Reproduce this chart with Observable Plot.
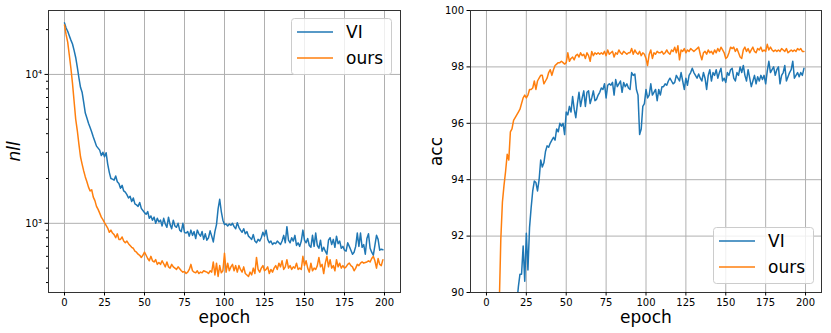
<!DOCTYPE html>
<html>
<head>
<meta charset="utf-8">
<script src="https://cdn.jsdelivr.net/npm/d3@7"></script>
<script src="https://cdn.jsdelivr.net/npm/@observablehq/plot@0.6"></script>
<style>
  html, body { margin: 0; padding: 0; background: #fff; }
  #wrap { position: relative; width: 831px; height: 333px; font-family: "DejaVu Sans", sans-serif; }
  .panel { position: absolute; top: 0; }
  .legend { position: absolute; }
</style>
</head>
<body>
<div id="wrap">
  <div id="left" class="panel" style="left:0px"></div>
  <div id="right" class="panel" style="left:415px"></div>
</div>
<script>
const seriesNames = ["VI", "ours"];
const seriesColors = ["#1f77b4", "#ff7f0e"];
const xTicks = [0, 25, 50, 75, 100, 125, 150, 175, 200];
const nllMajorTicks = [1000, 10000];
const nllMajorLabels = ["10\u00B3", "10\u2074"];
const nllMinorTicks = [400, 500, 600, 700, 800, 900, 2000, 3000, 4000, 5000, 6000, 7000, 8000, 9000, 20000];
const accTicks = [90, 92, 94, 96, 98, 100];

const nllVI = [
22200,20500,19500,18200,17000,16000,14500,13000,11200,9500,
8200,7600,6500,5500,5100,4700,4400,4100,3800,3550,
3300,3200,3100,2850,3000,2800,2980,2500,2200,2000,
1980,1950,2080,1900,1850,1720,1800,1650,1620,1560,
1480,1520,1400,1480,1350,1330,1300,1380,1260,1220,
1180,1150,1200,1080,1120,1050,1100,1000,1080,1020,
1050,960,1080,990,940,1100,980,920,1050,960,
940,1000,900,880,1000,870,860,880,820,900,
830,880,790,900,850,820,880,780,850,770,
800,890,820,750,880,980,1250,1450,1200,1050,
980,990,960,990,970,1000,950,920,1010,940,
900,870,920,850,880,820,800,780,840,760,
740,780,760,800,870,820,900,780,740,760,
720,740,730,760,740,720,760,830,740,950,
770,740,800,760,830,710,740,700,760,900,
770,740,790,710,690,830,700,860,710,680,
770,650,690,650,620,770,800,720,780,690,
820,730,760,680,700,660,650,740,700,660,
620,640,700,860,700,860,690,720,620,790,
850,680,640,610,710,830,780,660,670,665];

const nllOurs = [
21500,18500,16500,13500,11000,8700,6600,5000,4200,3400,
2800,2500,2250,2050,1900,1750,1650,1680,1500,1420,
1300,1240,1170,1100,1060,1010,970,930,870,900,
860,840,800,850,780,780,810,760,740,760,
730,710,690,680,650,640,620,610,590,610,
640,610,580,560,600,560,550,570,530,545,
530,560,535,510,550,510,500,530,510,500,
490,510,495,480,470,475,460,470,490,530,
480,470,465,480,460,470,465,480,475,470,
460,480,470,550,450,540,440,520,465,480,
630,470,540,480,510,530,480,520,470,520,
490,470,510,460,450,440,470,450,500,460,
590,490,470,500,520,480,490,510,460,490,
470,500,520,490,540,510,560,490,510,570,
500,520,490,510,500,540,490,500,490,600,
520,560,500,470,540,480,500,490,520,590,
510,530,460,540,600,510,570,500,520,480,
570,510,540,500,520,500,510,530,540,520,
510,480,500,530,520,540,550,540,545,550,
560,550,580,600,560,500,580,530,520,570];

const accVI = [
40,55,62,68,72,75,77.5,79.5,81,82.5,
83.6,84.6,85.5,86.3,87,87.6,88.2,88.7,89.2,89.6,
90.2,90.65,90.65,91.65,90.4,92.1,90.8,92.3,93.0,93.6,
93.95,93.9,93.6,94.0,94.7,94.45,94.6,95.0,95.2,95.15,
95.3,95.4,95.5,95.4,95.8,95.7,96.0,95.9,96.0,95.6,
96.4,96.3,96.6,96.4,96.95,96.5,96.2,96.7,97.1,96.6,
96.9,97.15,96.6,97.1,97.15,96.7,96.9,97.15,96.8,96.85,
97.0,97.1,97.25,97.2,97.4,96.9,97.35,97.4,97.35,97.45,
97.0,97.55,97.3,97.4,97.5,97.1,97.45,97.3,97.4,97.25,
97.2,97.8,97.7,97.75,97.2,97.0,95.6,95.8,96.6,96.7,
97.2,96.9,97.0,97.4,97.0,97.1,97.2,96.8,97.2,97.0,
97.3,97.3,97.4,97.35,97.5,97.6,97.5,97.4,97.45,97.7,
97.6,97.5,97.8,97.5,97.2,97.6,97.35,97.7,97.8,97.95,
97.8,97.7,97.6,97.75,97.6,97.5,97.8,97.6,97.2,97.7,
97.9,97.5,97.8,97.7,97.9,97.6,97.8,97.95,97.5,97.6,
97.45,97.8,97.7,97.9,97.95,97.6,97.5,97.8,97.7,98.0,
97.8,98.05,97.7,97.5,97.9,97.6,97.3,97.5,97.7,97.4,
97.65,97.5,97.7,97.55,97.7,97.4,97.85,98.2,97.8,97.9,
98.0,97.7,97.9,98.0,97.4,97.7,97.8,98.05,97.5,97.65,
97.8,97.9,98.2,97.6,97.7,97.8,97.65,97.8,97.7,97.95];

const accOurs = [
60,72,78,82,85,86.8,88,89.0,89.5,91.9,
93.2,93.8,94.3,94.9,94.7,95.7,95.8,96.1,96.2,96.3,
96.4,96.5,96.7,96.9,97.0,96.9,97.0,97.2,97.2,97.25,
97.5,97.2,97.5,97.6,97.7,97.7,97.4,97.5,97.6,97.8,
97.9,97.7,97.9,98.05,98.1,98.15,98.15,98.2,98.15,98.1,
98.15,98.5,98.2,98.3,98.35,98.25,98.4,98.45,98.35,98.5,
98.4,98.45,98.3,98.5,98.4,98.2,98.55,98.4,98.5,98.45,
98.5,98.45,98.5,98.45,98.55,98.4,98.6,98.45,98.5,98.55,
98.35,98.5,98.45,98.6,98.5,98.45,98.55,98.5,98.45,98.5,
98.5,98.65,98.45,98.6,98.5,98.45,98.55,98.4,98.5,98.45,
98.3,98.05,98.45,98.6,98.3,98.5,98.45,98.55,98.5,98.5,
98.55,98.45,98.5,98.6,98.5,98.45,98.6,98.55,98.7,98.5,
98.75,98.25,98.6,98.55,98.65,98.5,98.6,98.55,98.65,98.6,
98.55,98.6,98.65,98.7,98.45,98.25,98.5,98.55,98.45,98.6,
98.5,98.55,98.45,98.6,98.5,98.65,98.55,98.7,98.6,98.5,
98.3,98.35,98.5,98.7,98.65,98.7,98.55,98.65,98.5,98.35,
98.3,98.6,98.7,98.55,98.65,98.5,98.6,98.7,98.55,98.5,
98.65,98.6,98.7,98.55,98.6,98.55,98.8,98.6,98.7,98.6,
98.55,98.6,98.55,98.6,98.55,98.65,98.6,98.55,98.65,98.5,
98.55,98.6,98.55,98.6,98.55,98.65,98.6,98.65,98.55,98.55];

const toRows = (arr) => arr.map((v, i) => ({epoch: i, v}));
const font = "DejaVu Sans, sans-serif";
const gridColor = "#b0b0b0";

function legendSvg(left, top) {
  const div = document.createElement("div");
  div.className = "legend";
  div.style.left = left + "px";
  div.style.top = top + "px";
  div.innerHTML = `
  <svg width="101" height="57" xmlns="http://www.w3.org/2000/svg" style="font-family:'DejaVu Sans',sans-serif">
    <rect x="0.5" y="0.5" width="100" height="56" rx="3" ry="3" fill="rgba(255,255,255,0.8)" stroke="#cccccc" stroke-width="1"/>
    <line x1="6" x2="42" y1="14" y2="14" stroke="${seriesColors[0]}" stroke-width="1.5"/>
    <line x1="6" x2="42" y1="40" y2="40" stroke="${seriesColors[1]}" stroke-width="1.5"/>
    <text x="55" y="14" dy="0.36em" font-size="17" fill="#000">${seriesNames[0]}</text>
    <text x="55" y="40" dy="0.36em" font-size="17" fill="#000">${seriesNames[1]}</text>
  </svg>`;
  document.getElementById("wrap").appendChild(div);
}

const leftPlot = Plot.plot({
  width: 415, height: 333,
  marginLeft: 48, marginRight: 15, marginTop: 10, marginBottom: 41,
  style: {fontFamily: font, fontSize: "10px", background: "#fff", color: "#000"},
  x: {domain: [-10, 210]},
  y: {type: "log", domain: [343, 26880]},
  marks: [
    Plot.gridX(xTicks, {stroke: gridColor, strokeOpacity: 1, strokeWidth: 1}),
    Plot.gridY(nllMajorTicks, {stroke: gridColor, strokeOpacity: 1, strokeWidth: 1}),
    Plot.line(toRows(nllVI), {x: "epoch", y: "v", stroke: seriesColors[0], strokeWidth: 1.5, clip: true}),
    Plot.line(toRows(nllOurs), {x: "epoch", y: "v", stroke: seriesColors[1], strokeWidth: 1.5, clip: true}),
    Plot.frame({stroke: "#333", strokeWidth: 1}),
    Plot.axisX(xTicks, {tickSize: 3.5, tickPadding: 3, label: null, fontSize: 10}),
    Plot.axisY(nllMajorTicks, {tickSize: 3.5, tickPadding: 3, label: null, fontSize: 10,
      tickFormat: (d) => nllMajorLabels[nllMajorTicks.indexOf(d)]}),
    Plot.axisY(nllMinorTicks, {tickSize: 2, label: null, tickFormat: () => ""}),
    Plot.text(["epoch"], {text: (d) => d, frameAnchor: "bottom", lineAnchor: "middle", textAnchor: "middle", dy: 25, fontSize: 17, fill: "#000"}),
    Plot.text(["nll"], {text: (d) => d, frameAnchor: "left", lineAnchor: "middle", textAnchor: "middle", dx: -34, rotate: -90, fontSize: 17, fontStyle: "italic", fill: "#000"})
  ]
});
document.getElementById("left").appendChild(leftPlot);

const rightPlot = Plot.plot({
  width: 416, height: 333,
  marginLeft: 55, marginRight: 10, marginTop: 10, marginBottom: 41,
  style: {fontFamily: font, fontSize: "10px", background: "#fff", color: "#000"},
  x: {domain: [-10, 210]},
  y: {domain: [90, 100]},
  marks: [
    Plot.gridX(xTicks, {stroke: gridColor, strokeOpacity: 1, strokeWidth: 1}),
    Plot.gridY(accTicks, {stroke: gridColor, strokeOpacity: 1, strokeWidth: 1}),
    Plot.line(toRows(accVI), {x: "epoch", y: "v", stroke: seriesColors[0], strokeWidth: 1.5, clip: true}),
    Plot.line(toRows(accOurs), {x: "epoch", y: "v", stroke: seriesColors[1], strokeWidth: 1.5, clip: true}),
    Plot.frame({stroke: "#333", strokeWidth: 1}),
    Plot.axisX(xTicks, {tickSize: 3.5, tickPadding: 3, label: null, fontSize: 10}),
    Plot.axisY(accTicks, {tickSize: 3.5, tickPadding: 3, label: null, fontSize: 10}),
    Plot.text(["epoch"], {text: (d) => d, frameAnchor: "bottom", lineAnchor: "middle", textAnchor: "middle", dy: 25, fontSize: 17, fill: "#000"}),
    Plot.text(["acc"], {text: (d) => d, frameAnchor: "left", lineAnchor: "middle", textAnchor: "middle", dx: -34, rotate: -90, fontSize: 17, fill: "#000"})
  ]
});
document.getElementById("right").appendChild(rightPlot);

legendSvg(291, 18);
legendSvg(713, 227);
</script>
</body>
</html>
